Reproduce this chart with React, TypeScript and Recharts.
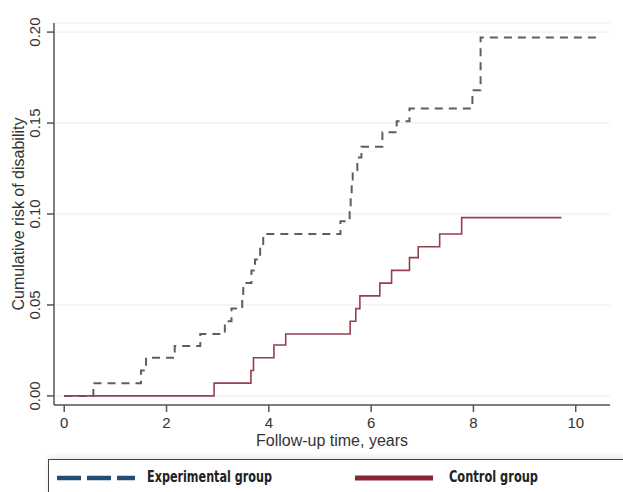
import React from "react";
import { LineChart, Line, XAxis, YAxis, CartesianGrid, Label } from "recharts";

// Experimental group: Kaplan-Meier style cumulative risk (step after)
const expTimes = [0, 0.57, 1.5, 1.6, 2.16, 2.66, 3.14, 3.27, 3.48, 3.5, 3.66, 3.73, 3.83, 3.89, 5.4, 5.58, 5.6, 5.62, 5.64, 5.73, 5.81, 6.22, 6.5, 6.75, 7.98, 8.14, 10.47];
const expRisk = [0, 0.007, 0.014, 0.021, 0.0275, 0.034, 0.041, 0.048, 0.055, 0.062, 0.069, 0.075, 0.082, 0.089, 0.096, 0.103, 0.11, 0.117, 0.124, 0.131, 0.137, 0.145, 0.151, 0.158, 0.168, 0.197, 0.197];

// Control group
const ctlTimes = [0, 2.93, 3.65, 3.7, 4.1, 4.33, 5.59, 5.7, 5.78, 6.17, 6.4, 6.75, 6.92, 7.34, 7.77, 9.72];
const ctlRisk = [0, 0.007, 0.014, 0.021, 0.028, 0.034, 0.041, 0.048, 0.055, 0.062, 0.069, 0.076, 0.082, 0.089, 0.098, 0.098];

const xTicks = [0, 2, 4, 6, 8, 10];
const yTicks = [0, 0.05, 0.1, 0.15, 0.2];

const seriesNames = ["Experimental group", "Control group"];
const xTitle = "Follow-up time, years";
const yTitle = "Cumulative risk of disability";

const expData = expTimes.map((t, i) => ({ t, v: expRisk[i] }));
const ctlData = ctlTimes.map((t, i) => ({ t, v: ctlRisk[i] }));

const FONT = "'Liberation Sans', Arial, sans-serif";
const LEGEND_FONT = "'Liberation Sans Narrow', 'DejaVu Sans Condensed', sans-serif";
const AXIS = "#555";

const XTick = (props: any) => {
  const { x, y, payload } = props;
  return (
    <text x={x} y={y + 3} dy="0.71em" textAnchor="middle" fill="#333" fontSize={15} fontFamily={FONT}>
      {payload.value}
    </text>
  );
};

const YTick = (props: any) => {
  const { y, payload } = props;
  const cx = 34.5;
  return (
    <text
      x={cx}
      y={y}
      transform={`rotate(-90, ${cx}, ${y})`}
      textAnchor="middle"
      dominantBaseline="central"
      fill="#333"
      fontSize={15}
      fontFamily={FONT}
    >
      {Number(payload.value).toFixed(2)}
    </text>
  );
};

const XTitle = () => (
  <text x={332} y={440} textAnchor="middle" dominantBaseline="central" fill="#333" fontSize={16} fontFamily={FONT}>
    {xTitle}
  </text>
);

const YTitle = () => (
  <text
    x={18}
    y={214}
    transform="rotate(-90, 18, 214)"
    textAnchor="middle"
    dominantBaseline="central"
    fill="#333"
    fontSize={16}
    fontFamily={FONT}
  >
    {yTitle}
  </text>
);

export default function App() {
  return (
    <div
      style={{
        position: "absolute",
        left: 0,
        top: 0,
        width: 623,
        height: 492,
        overflow: "hidden",
        background: "#fff",
      }}
    >
      <LineChart width={623} height={492} margin={{ top: 23, right: 13, bottom: 37, left: 0 }}>
        <CartesianGrid vertical={false} stroke="#ececec" strokeWidth={1} />
        <XAxis
          type="number"
          dataKey="t"
          domain={[-0.2, 10.67]}
          allowDataOverflow
          ticks={xTicks}
          height={50}
          axisLine={{ stroke: AXIS, strokeWidth: 1.5 }}
          tickLine={{ stroke: AXIS, strokeWidth: 1.5 }}
          tickSize={7}
          tick={XTick}
        >
          <Label content={XTitle} />
        </XAxis>
        <YAxis
          type="number"
          dataKey="v"
          domain={[-0.005, 0.205]}
          allowDataOverflow
          ticks={yTicks}
          width={54}
          axisLine={{ stroke: AXIS, strokeWidth: 1.5 }}
          tickLine={{ stroke: AXIS, strokeWidth: 1.5 }}
          tickSize={7}
          tick={YTick}
        >
          <Label content={YTitle} />
        </YAxis>
        <Line
          data={expData}
          dataKey="v"
          name={seriesNames[0]}
          type="stepAfter"
          stroke="#56606b"
          strokeWidth={2}
          strokeDasharray="8 6"
          dot={false}
          activeDot={false}
          isAnimationActive={false}
        />
        <Line
          data={ctlData}
          dataKey="v"
          name={seriesNames[1]}
          type="stepAfter"
          stroke="#94404f"
          strokeWidth={1.6}
          dot={false}
          activeDot={false}
          isAnimationActive={false}
        />
      </LineChart>

      {/* Legend */}
      <div
        style={{
          position: "absolute",
          left: 48,
          top: 459,
          width: 640,
          height: 80,
          border: "1.5px solid #444",
          boxSizing: "border-box",
          boxShadow: "0 -3px 5px rgba(0,0,0,0.08)",
          background: "#fff",
        }}
      />
      <svg style={{ position: "absolute", left: 0, top: 0 }} width={623} height={492} pointerEvents="none">
        <line x1={57} y1={478} x2={135} y2={478} stroke="#1f4e79" strokeWidth={4.5} strokeDasharray="24 6" />
        <line x1={355} y1={478} x2={433} y2={478} stroke="#8b2635" strokeWidth={5} />
        <text
          x={147}
          y={476}
          dominantBaseline="central"
          fontSize={16}
          fontWeight={600}
          fill="#222"
          fontFamily={LEGEND_FONT}
          textLength={125}
          lengthAdjust="spacingAndGlyphs"
        >
          {seriesNames[0]}
        </text>
        <text
          x={449}
          y={476}
          dominantBaseline="central"
          fontSize={16}
          fontWeight={600}
          fill="#222"
          fontFamily={LEGEND_FONT}
          textLength={89}
          lengthAdjust="spacingAndGlyphs"
        >
          {seriesNames[1]}
        </text>
      </svg>
    </div>
  );
}
